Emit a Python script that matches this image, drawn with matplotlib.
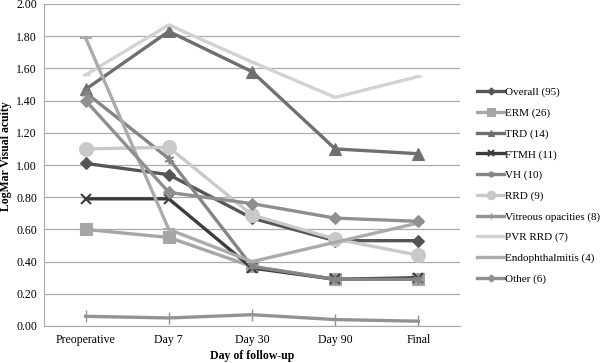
import matplotlib
matplotlib.use("Agg")
import matplotlib.pyplot as plt

categories = ["Preoperative", "Day 7", "Day 30", "Day 90", "Final"]
overall = [1.01, 0.94, 0.67, 0.53, 0.53]
erm = [0.60, 0.55, 0.37, 0.29, 0.29]
trd = [1.47, 1.83, 1.58, 1.10, 1.07]
ftmh = [0.79, 0.79, 0.36, 0.29, 0.30]
vh = [1.45, 1.04, 0.37, 0.29, 0.29]
rrd = [1.10, 1.11, 0.69, 0.54, 0.44]
vitreous = [0.06, 0.05, 0.07, 0.04, 0.03]
pvr_rrd = [1.56, 1.87, 1.64, 1.42, 1.55]
endo = [1.79, 0.60, 0.40, 0.52, 0.64]
other = [1.40, 0.83, 0.76, 0.67, 0.65]

names = ["Overall (95)", "ERM (26)", "TRD (14)", "FTMH (11)", "VH (10)", "RRD (9)",
         "Vitreous opacities (8)", "PVR RRD (7)", "Endophthalmitis (4)", "Other (6)"]
series = [overall, erm, trd, ftmh, vh, rrd, vitreous, pvr_rrd, endo, other]
styles = [
    dict(color="#555555", marker="D", ms=6),
    dict(color="#a6a6a6", marker="s", ms=8.5),
    dict(color="#6f6f6f", marker="^", ms=8),
    dict(color="#3c3c3c", marker="x", ms=7, mew=1.5),
    dict(color="#858585", marker=(6, 2, 0), ms=7, mew=1.2),
    dict(color="#c9c9c9", marker="o", ms=10),
    dict(color="#939393", marker="|", ms=8, mew=1.0),
    dict(color="#d2d2d2", marker="_", ms=6, mew=1.0),
    dict(color="#ababab", marker="_", ms=8, mew=1.5),
    dict(color="#8f8f8f", marker="D", ms=6),
]

plt.rcParams['font.family'] = ['Liberation Serif', 'DejaVu Serif']
fig = plt.figure(figsize=(6.0, 3.63), dpi=100)
ax = fig.add_axes([44/600, (363-326)/363, 416/600, 322/363])
x = list(range(len(categories)))
for name, vals, st in zip(names, series, styles):
    ax.plot(x, vals, lw=2.4, label=name, color=st["color"], marker=st["marker"],
            ms=st["ms"], mew=st.get("mew", 0.8), mec=st["color"], mfc=st["color"],
            solid_joinstyle="round")

ax.set_xlim(-0.5, 4.5)
ax.set_ylim(0, 2.0)
ax.set_yticks([i * 0.2 for i in range(11)])
ax.set_yticklabels([f"{i*0.2:.2f}" for i in range(11)], fontsize=8.5)
ax.set_xticks(x)
ax.set_xticklabels(categories, fontsize=8.5)
ax.tick_params(axis="y", length=0, pad=5)
ax.tick_params(axis="x", length=0, pad=6)
ax.grid(axis="y", color="#aaaaaa", lw=0.9)
ax.set_axisbelow(True)
for s in ["top", "right"]:
    ax.spines[s].set_visible(False)
ax.spines["left"].set_color("#aaaaaa")
ax.spines["bottom"].set_color("#aaaaaa")
ax.set_ylabel("LogMar Visual acuity", fontsize=8.5, fontweight="bold", labelpad=3)
ax.yaxis.label.set_y(0.528)
ax.set_xlabel("Day of follow-up", fontsize=8.5, fontweight="bold", labelpad=3)

handles, labels = ax.get_legend_handles_labels()
leg = fig.legend(handles, labels, loc="upper left", bbox_to_anchor=(473/600, 1 - 83/363),
                 frameon=False, fontsize=8, handlelength=2.4, handletextpad=0.1,
                 labelspacing=0.96, markerscale=0.6, borderaxespad=0)
fig.savefig("out.png", dpi=100)
